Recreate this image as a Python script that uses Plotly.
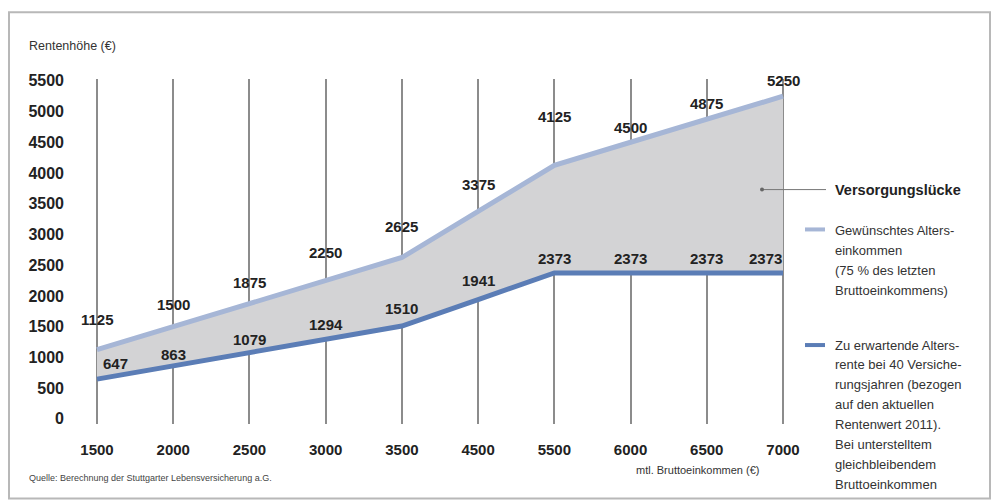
import plotly.graph_objects as go

# ---- data ----
categories = ["1500", "2000", "2500", "3000", "3500", "4500", "5500", "6000", "6500", "7000"]
desired = [1125, 1500, 1875, 2250, 2625, 3375, 4125, 4500, 4875, 5250]
expected = [647, 863, 1079, 1294, 1510, 1941, 2373, 2373, 2373, 2373]
y_ticks = [0, 500, 1000, 1500, 2000, 2500, 3000, 3500, 4000, 4500, 5000, 5500]

legend_desired_lines = ["Gewünschtes Alters-", "einkommen", "(75 % des letzten", "Bruttoeinkommens)"]
legend_expected_lines = ["Zu erwartende Alters-", "rente bei 40 Versiche-", "rungsjahren (bezogen",
                         "auf den aktuellen", "Rentenwert 2011).", "Bei unterstelltem",
                         "gleichbleibendem", "Bruttoeinkommen"]

# ---- label offsets (style) ----
desired_dy = [30, 22, 21, 28, 31, 27, 49, 15, 16, 16]
expected_dy = [16, 11, 13, 15, 18, 19, 15, 15, 15, 15]
expected_dx = [18, 0, 0, 0, 0, 0, 0, 0, 0, -18]

W, H = 993, 504
FILL = "#d3d3d5"
UPPER = "#a6b6d6"
LOWER = "#5b7db6"
GRID = "#8c8c8c"
TXT = "#222222"
FONT = "Liberation Sans"

fig = go.Figure()
fig.add_trace(go.Scatter(x=categories, y=expected, mode="lines",
                         line=dict(color=LOWER, width=0), showlegend=False, hoverinfo="skip"))
fig.add_trace(go.Scatter(x=categories, y=desired, mode="lines", fill="tonexty",
                         fillcolor=FILL, line=dict(color=UPPER, width=5),
                         showlegend=False))
fig.add_trace(go.Scatter(x=categories, y=expected, mode="lines",
                         line=dict(color=LOWER, width=5), showlegend=False))

annotations = []
for i, c in enumerate(categories):
    annotations.append(dict(x=i, y=desired[i], xref="x", yref="y", text=str(desired[i]),
                            showarrow=False, yshift=desired_dy[i],
                            font=dict(family=FONT, size=15, color=TXT, weight="bold")))
    annotations.append(dict(x=i, y=expected[i], xref="x", yref="y", text=str(expected[i]),
                            showarrow=False, yshift=expected_dy[i], xshift=expected_dx[i],
                            font=dict(family=FONT, size=15, color=TXT, weight="bold")))


def px(x):
    return x / W


def py(y):
    t = (y - 6.8) / 0.9815
    return 1 - t / H


annotations += [
    dict(x=px(27), y=py(46), xref="paper", yref="paper", xanchor="left", yanchor="middle",
         text="Rentenhöhe (€)", showarrow=False, font=dict(family=FONT, size=12.5, color="#333")),
    dict(x=px(761), y=py(471), xref="paper", yref="paper", xanchor="right", yanchor="middle",
         text="mtl. Bruttoeinkommen (€)", showarrow=False, font=dict(family=FONT, size=11, color="#333")),
    dict(x=px(27), y=py(479), xref="paper", yref="paper", xanchor="left", yanchor="middle",
         text="Quelle: Berechnung der Stuttgarter Lebensversicherung a.G.", showarrow=False,
         font=dict(family=FONT, size=9, color="#444")),
    dict(x=px(833), y=py(190), xref="paper", yref="paper", xanchor="left", yanchor="middle",
         text="Versorgungslücke", showarrow=False,
         font=dict(family=FONT, size=14.5, color=TXT, weight="bold")),
]
for k, line in enumerate(legend_desired_lines):
    annotations.append(dict(x=px(833), y=py(231 + 20 * k), xref="paper", yref="paper",
                            xanchor="left", yanchor="middle", text=line, showarrow=False,
                            font=dict(family=FONT, size=13, color="#333")))
for k, line in enumerate(legend_expected_lines):
    annotations.append(dict(x=px(833), y=py(346 + 20 * k), xref="paper", yref="paper",
                            xanchor="left", yanchor="middle", text=line, showarrow=False,
                            font=dict(family=FONT, size=13, color="#333")))

shapes = [
    dict(type="rect", xref="paper", yref="paper", x0=px(9), x1=px(990), y0=py(500), y1=py(12),
         line=dict(color="#b8b8b8", width=2)),
    dict(type="line", xref="paper", yref="paper", x0=px(762), x1=px(826), y0=py(190), y1=py(190),
         line=dict(color="#777", width=1)),
    dict(type="circle", xref="paper", yref="paper", x0=px(760), x1=px(764), y0=py(192), y1=py(188),
         fillcolor="#666", line=dict(width=0)),
    dict(type="line", xref="paper", yref="paper", x0=px(805), x1=px(825), y0=py(230), y1=py(230),
         line=dict(color=UPPER, width=4)),
    dict(type="line", xref="paper", yref="paper", x0=px(805), x1=px(825), y0=py(346), y1=py(346),
         line=dict(color=LOWER, width=4)),
]

n = len(categories)
unit = 76.2
fig.update_layout(
    width=W, height=H,
    margin=dict(l=0, r=0, t=0, b=0),
    paper_bgcolor="white", plot_bgcolor="white",
    showlegend=False,
    xaxis=dict(type="category", categoryorder="array", categoryarray=categories,
               domain=[px(72), px(800)],
               range=[-(97 - 72) / unit, (n - 1) + (800 - 783) / unit],
               showgrid=True, gridcolor=GRID, gridwidth=2, zeroline=False, showline=False,
               ticks="", ticklabelstandoff=15,
               tickfont=dict(family=FONT, size=15, color=TXT, weight="bold")),
    yaxis=dict(domain=[py(425), py(79)], range=[-80, 5530],
               tickvals=y_ticks, ticktext=[str(v) for v in y_ticks],
               showgrid=False, zeroline=False, showline=False, ticks="",
               ticklabelstandoff=7,
               tickfont=dict(family=FONT, size=16, color=TXT, weight="bold")),
    annotations=annotations,
    shapes=shapes,
)

fig.write_html("out.html", config={"displayModeBar": False},
               post_script="document.body.style.margin='0';document.body.style.overflow='hidden';")
